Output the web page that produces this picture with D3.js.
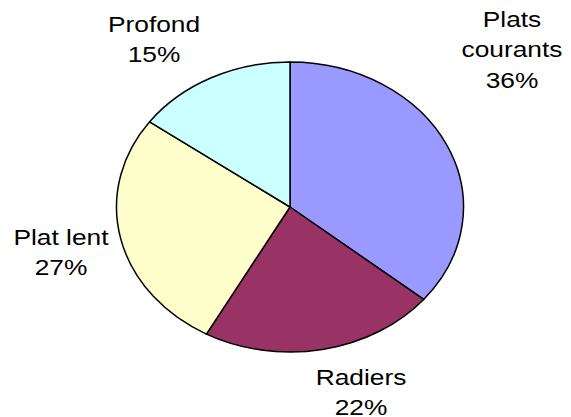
<!DOCTYPE html>
<html>
<head>
<meta charset="utf-8">
<script src="https://cdn.jsdelivr.net/npm/d3@7"></script>
<style>
  html, body { margin: 0; padding: 0; background: #fff; }
  svg { display: block; }
  text { font-family: "Liberation Sans", Arial, sans-serif; fill: #000; }
</style>
</head>
<body>
<svg id="chart" width="571" height="417"></svg>
<script>
// Share of habitat types (percent), clockwise from 12 o'clock
const categories = ["Plats courants", "Radiers", "Plat lent", "Profond"];
const values = [36, 22, 27, 15];
const colors = ["#9999FF", "#993366", "#FFFFCC", "#CCFFFF"];
// Label lines (category name split as shown) and their anchor centres
const labelLines = [["Plats", "courants"], ["Radiers"], ["Plat lent"], ["Profond"]];
const labelPos = [[512, 27], [361, 384.5], [61, 245], [154, 32]];

const W = 571, H = 417;
const cx = 290, cy = 207, rx = 173.5, ry = 145;
const lineGap = 30.5, fontSize = 22.5, stretchX = 1.17;

const svg = d3.select("#chart");

const pie = d3.pie().sort(null).value(d => d.v);
const arc = d3.arc().innerRadius(0).outerRadius(rx);
const data = categories.map((c, i) => ({ c, v: values[i], col: colors[i] }));

// Elliptical pie: draw on a circle and flatten vertically
const g = svg.append("g")
  .attr("transform", `translate(${cx},${cy}) scale(1,${ry / rx})`);

g.selectAll("path")
  .data(pie(data))
  .join("path")
  .attr("d", arc)
  .attr("fill", d => d.data.col)
  .attr("stroke", "#000")
  .attr("stroke-width", 1.5)
  .attr("vector-effect", "non-scaling-stroke")
  .attr("stroke-linejoin", "round");

// Labels: name lines followed by percentage
const fmt = d => d3.format(".0f")(d) + "%";
data.forEach((d, i) => {
  const lines = labelLines[i].concat([fmt(d.v)]);
  const [lx, ly] = labelPos[i];
  const t = svg.append("g")
    .attr("transform", `translate(${lx},${ly}) scale(${stretchX},1)`);
  lines.forEach((s, j) => {
    t.append("text")
      .attr("x", 0)
      .attr("y", j * lineGap)
      .attr("text-anchor", "middle")
      .attr("font-size", fontSize)
      .text(s);
  });
});
</script>
</body>
</html>
